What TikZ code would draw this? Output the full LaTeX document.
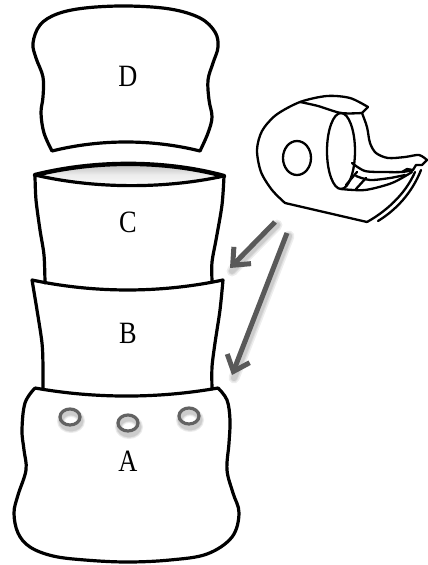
\documentclass[tikz,border=0pt]{standalone}
\usepackage{fontspec}
\setmainfont{Liberation Serif}
\usetikzlibrary{arrows.meta}
\definecolor{arrowgray}{HTML}{595959}
\definecolor{holegray}{HTML}{626262}
\begin{document}
\begin{tikzpicture}[x=1pt,y=-1pt,
  outline/.style={line width=3.2pt, line join=round, line cap=round},
  rim/.style={line width=4.4pt, line cap=round},
  tapeline/.style={line width=2.3pt, line join=round, line cap=round},
  pointer/.style={line width=5pt, draw=arrowgray, -{Straight Barb[length=14pt,width=24pt]}},
  pointershade/.style={line width=#1, draw=black, opacity=0.07, line cap=round},
  hole/.style={draw=holegray, line width=3.2pt},
  holeshade/.style={draw=black, line width=#1, opacity=0.07},
  seglabel/.style={font=\fontsize{31}{34}\selectfont, inner sep=0pt}]
\useasboundingbox (0,0) rectangle (428,565);

% ---- segment D (loose, on top)
\draw[outline] (52,151) .. controls (100,139) and (152,139) .. (200,151)
  -- plot[smooth, tension=0.6] coordinates {(200,151) (208,133) (212,117) (209,100)
     (208,80) (213,63) (218,47) (215,32) (200,18) (170,9) (127,6) (85,8) (57,14)
     (40,25) (33,43) (36,58) (43,77) (43,97) (41,113) (44,133) (52,151)};
\node[seglabel] (labD) at (128,76.5) {\scalebox{0.85}[1]{D}};

% ---- segment C with its open rim
\shade[top color=gray!65, bottom color=white, middle color=white!85!gray]
  (35,175) .. controls (95,160) and (165,160) .. (224,176)
  .. controls (165,189) and (95,189) .. (35,175) -- cycle;
\draw[outline] plot[smooth] coordinates {(35,176) (36,200) (40,230) (44,255) (45,283)};
\draw[outline] plot[smooth] coordinates {(224,176) (222,205) (216,240) (212,262) (212,281)};
\draw[outline] (35,175) .. controls (95,189) and (165,189) .. (224,176);
\draw[rim] (35,175) .. controls (95,160) and (165,160) .. (224,176);
\node[seglabel] (labC) at (128,222) {\scalebox{0.85}[1]{C}};

% ---- segment B
\draw[outline] (43,389) -- plot[smooth] coordinates {(43,389) (43,367) (42,343) (37,310) (32,280)}
  .. controls (95,293.3) and (160,293.3) .. (223,280)
  -- plot[smooth] coordinates {(223,280) (220,310) (215,343) (212,367) (212,389)};
\node[seglabel] (labB) at (128,333) {\scalebox{0.85}[1]{B}};

% ---- segment A (base)
\draw[outline] (35,388) .. controls (95,398.7) and (158,398.7) .. (218,388)
  -- plot[smooth, tension=0.6] coordinates {(218,388) (227,400) (230,420) (229,443) (227,470)
     (233,493) (239,513) (232,537) (207,554) (170,560) (127,562) (85,560) (53,556)
     (30,547) (18,533) (14,513) (18,495) (26,470) (24,450) (22,430) (25,403) (35,388)};
\node[seglabel] (labA) at (128,461) {\scalebox{0.85}[1]{A}};

% holes in the base, with soft shadows
\foreach \hx/\hy [count=\i] in {70/417, 128/423, 189/416} {
  \foreach \w in {8pt,6pt,4.5pt}
    \draw[holeshade=\w] (\hx+1,\hy+4) ellipse [x radius=10, y radius=8];
  \draw[hole] (\hx,\hy) ellipse [x radius=10, y radius=8];
}

% ---- tape dispenser
\draw[tapeline] plot[smooth] coordinates {(368,107) (350,98) (327,96) (300,102) (276,115)
   (262,131) (257,150) (261,172) (272,190) (285,203)} -- (367,222);
\draw[tapeline] (368,107) -- (362,113);
\draw[tapeline] plot[smooth] coordinates {(362,113) (341,113) (318,106) (300,102)};
\draw[tapeline] (297,158) ellipse [x radius=14, y radius=17];
\draw[tapeline] (341,151) ellipse [x radius=14, y radius=38];
\draw[tapeline] plot[smooth] coordinates {(362,113) (367,127) (370,143) (376,153) (388,158)
   (405,157) (419,155) (427,160)}
   -- (422,165) -- (416,165) -- (413,170) -- (407,169) -- (402,172);
\draw[tapeline] plot[smooth] coordinates {(352,163) (365,171) (385,172) (402,172) (413,170)};
\draw[tapeline] plot[smooth] coordinates {(356,176) (370,180) (390,178) (405,175)};
\draw[tapeline] (346,185) -- (357,172);
\draw[tapeline] (356,189) -- (366,178);
\draw[tapeline] plot[smooth] coordinates {(341,189) (365,190) (392,183) (412,172)};
\draw[tapeline] (367,222) .. controls (385,212) and (405,195) .. (415,172);
\draw[tapeline] (378,221) .. controls (396,210) and (412,193) .. (421,170);

% ---- arrows from the tape to the joints
\coordinate (tail1) at (275,222);
\coordinate (tip1) at (230,268);
\coordinate (tail2) at (287,233);
\coordinate (tip2) at (232,375);
\begin{scope}[transform canvas={xshift=2pt,yshift=-3pt}]
  \foreach \w in {11pt,8pt,6pt} {
    \draw[pointershade=\w] (tail1) -- (tip1);
    \draw[pointershade=\w] (tail2) -- (tip2);
  }
\end{scope}
\draw[pointer] (tail1) -- (tip1);
\draw[pointer] (tail2) -- (tip2);
\end{tikzpicture}
\end{document}
